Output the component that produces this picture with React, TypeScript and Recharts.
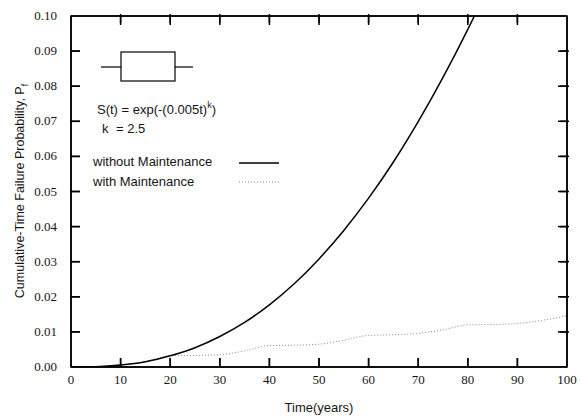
import React from 'react';
import { LineChart, Line, XAxis, YAxis } from 'recharts';

const years = [0, 5, 10, 15, 20, 25, 30, 35, 40, 45, 50, 55, 60, 65, 70, 75, 80, 85, 90, 95, 100];
const withoutMaintenance = [0, 0.0001, 0.00056, 0.0015, 0.0032, 0.0055, 0.0087, 0.0127, 0.0177, 0.0237, 0.0308, 0.0389, 0.0481, 0.0584, 0.0699, 0.0825, 0.0962, 0.111, 0.127, 0.144, 0.162];
const withMaintenance = [0, 0.0001, 0.00056, 0.0015, 0.0032, 0.0033, 0.0035, 0.0046, 0.0061, 0.0062, 0.0065, 0.0076, 0.009, 0.0092, 0.0096, 0.0106, 0.012, 0.0121, 0.0124, 0.0133, 0.0146];
const xTicks = [0, 10, 20, 30, 40, 50, 60, 70, 80, 90, 100];
const yTicks = [0, 0.01, 0.02, 0.03, 0.04, 0.05, 0.06, 0.07, 0.08, 0.09, 0.1];
const legendLabels = ['without Maintenance', 'with Maintenance'];
const equationLines = ['S(t) = exp(-(0.005t)', 'k', '= 2.5'];

const data = years.map((t, i) => ({ t, a: withoutMaintenance[i], b: withMaintenance[i] }));

const W = 582;
const H = 417;
const M = { top: 15, right: 14, bottom: 0, left: 0 };
const Y_AXIS_W = 71;
const X_AXIS_H = 50;
const PL = M.left + Y_AXIS_W;
const PR = W - M.right - 1;
const PT = M.top + 1;
const PB = H - M.bottom - X_AXIS_H;
const xp = (v: number) => PL + (v / 100) * (PR - PL);
const yp = (v: number) => PB - (v / 0.1) * (PB - PT);

const BottomTick = (props: any) => {
  const { x, y, payload } = props;
  const v = payload.value;
  const op = v === 0 || v === 100 ? 0 : 1;
  return (
    <g>
      <line x1={x} x2={x} y1={y} y2={y - 9} stroke="#000" strokeWidth={1.5} strokeOpacity={op} />
      <text x={x} y={y + 17} textAnchor="middle" fontFamily="Liberation Serif" fontSize={13} fill="#151515">{v}</text>
    </g>
  );
};

const TopTick = (props: any) => {
  const { x, y, payload } = props;
  const v = payload.value;
  const op = v === 0 || v === 100 ? 0 : 1;
  return (
    <g>
      <line x1={x} x2={x} y1={y} y2={y + 9} stroke="#000" strokeWidth={1.5} strokeOpacity={op} />
    </g>
  );
};

const LeftTick = (props: any) => {
  const { x, y, payload } = props;
  const v = payload.value;
  const op = v > 0.001 && v < 0.099 ? 1 : 0;
  return (
    <g>
      <line x1={x} x2={x + 9} y1={y} y2={y} stroke="#000" strokeWidth={1.5} strokeOpacity={op} />
      <text x={x - 14} y={y + 4} textAnchor="end" fontFamily="Liberation Serif" fontSize={13} fill="#151515">{Number(v).toFixed(2)}</text>
    </g>
  );
};

const RightTick = (props: any) => {
  const { x, y, payload } = props;
  const v = payload.value;
  const op = v > 0.001 && v < 0.099 ? 1 : 0;
  return (
    <g>
      <line x1={x} x2={x - 9} y1={y} y2={y} stroke="#000" strokeWidth={1.5} strokeOpacity={op} />
    </g>
  );
};

const Overlay = () => (
  <svg width={W} height={H} style={{ position: 'absolute', left: 0, top: 0, pointerEvents: 'none' }}>
    {/* frame and inward ticks */}
    <rect x={PL} y={PT} width={PR - PL} height={PB - PT} fill="none" stroke="#000" strokeWidth={1.5} />
    {xTicks.filter((v) => v !== 0 && v !== 100).map((v) => (
      <g key={'x' + v}>
        <line x1={xp(v)} x2={xp(v)} y1={PB} y2={PB - 9} stroke="#000" strokeWidth={1.5} />
        <line x1={xp(v)} x2={xp(v)} y1={PT} y2={PT + 9} stroke="#000" strokeWidth={1.5} />
      </g>
    ))}
    {yTicks.filter((v) => v > 0.001 && v < 0.099).map((v) => (
      <g key={'y' + v}>
        <line x1={PL} x2={PL + 9} y1={yp(v)} y2={yp(v)} stroke="#000" strokeWidth={1.5} />
        <line x1={PR} x2={PR - 9} y1={yp(v)} y2={yp(v)} stroke="#000" strokeWidth={1.5} />
      </g>
    ))}
    {/* box glyph */}
    <rect x={121} y={52} width={54} height={29} fill="none" stroke="#000" strokeWidth={1.2} />
    <line x1={101} x2={121} y1={67} y2={67} stroke="#000" strokeWidth={1.2} />
    <line x1={175} x2={193} y1={67} y2={67} stroke="#000" strokeWidth={1.2} />
    <text x={97} y={114} fontFamily="Liberation Sans" fontSize={13} fill="#151515">
      {equationLines[0]}
      <tspan dy={-6} fontSize={9}>k</tspan>
      <tspan dy={6}>)</tspan>
    </text>
    <text x={102} y={133} fontFamily="Liberation Sans" fontSize={13} fill="#151515">
      {equationLines[1]}
      <tspan x={116}>{equationLines[2]}</tspan>
    </text>
    <text x={93} y={166} fontFamily="Liberation Sans" fontSize={13} fill="#151515">{legendLabels[0]}</text>
    <line x1={239} x2={279} y1={163} y2={163} stroke="#000" strokeWidth={1.5} />
    <text x={93} y={186} fontFamily="Liberation Sans" fontSize={13} fill="#151515">{legendLabels[1]}</text>
    <line x1={239} x2={279} y1={182} y2={182} stroke="#888" strokeWidth={1} strokeDasharray="1 2" />
    <text x={0} y={0} transform="translate(24,191) rotate(-90)" textAnchor="middle" fontFamily="Liberation Sans" fontSize={12.5} fill="#151515">
      Cumulative-Time Failure Probability, P
      <tspan fontSize={9} dy={4}>f</tspan>
    </text>
    <text x={319} y={412} textAnchor="middle" fontFamily="Liberation Sans" fontSize={13} fill="#151515">Time(years)</text>
  </svg>
);

export default function App() {
  return (
    <div style={{ position: 'absolute', left: 0, top: 0, width: W, height: H }}>
      <LineChart width={W} height={H} data={data} margin={M}>
        <XAxis dataKey="t" type="number" domain={[0, 100]} ticks={xTicks} height={X_AXIS_H} tickSize={0} tickMargin={0} tickLine={false} axisLine={{ stroke: '#000', strokeWidth: 1.5 }} tick={<BottomTick />} />
        <XAxis xAxisId="top" orientation="top" dataKey="t" type="number" domain={[0, 100]} ticks={xTicks} height={1} tickSize={0} tickLine={false} axisLine={{ stroke: '#000', strokeWidth: 1.5 }} tick={<TopTick />} />
        <YAxis type="number" domain={[0, 0.1]} ticks={yTicks} allowDataOverflow width={Y_AXIS_W} tickSize={0} tickMargin={0} tickLine={false} axisLine={{ stroke: '#000', strokeWidth: 1.5 }} tick={<LeftTick />} />
        <YAxis yAxisId="right" orientation="right" type="number" domain={[0, 0.1]} ticks={yTicks} allowDataOverflow width={1} tickSize={0} tickLine={false} axisLine={{ stroke: '#000', strokeWidth: 1.5 }} tick={<RightTick />} />
        <Line dataKey="b" type="monotone" stroke="#888" strokeWidth={1} strokeDasharray="1 2" dot={false} isAnimationActive={false} />
        <Line dataKey="a" type="monotone" stroke="#000" strokeWidth={1.5} dot={false} isAnimationActive={false} />
      </LineChart>
      <Overlay />
    </div>
  );
}
